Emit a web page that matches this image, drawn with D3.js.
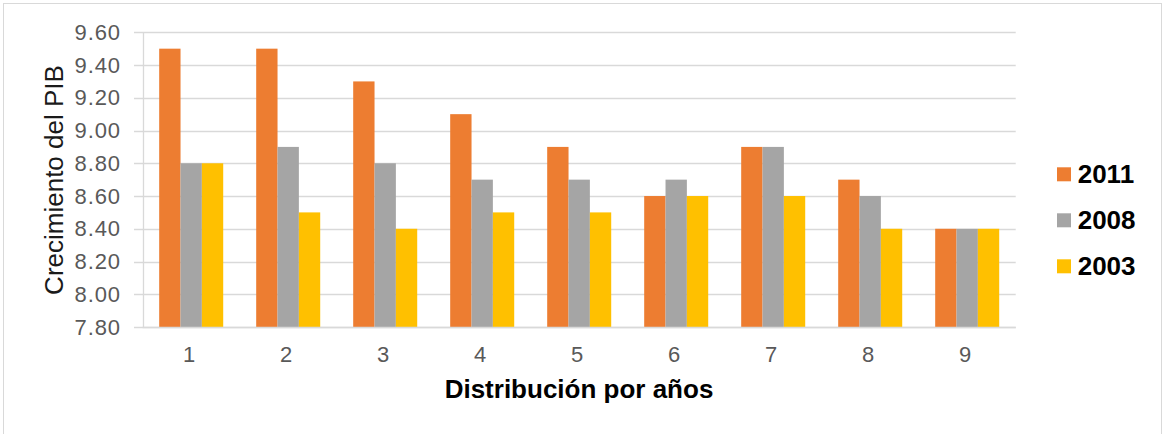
<!DOCTYPE html>
<html>
<head>
<meta charset="utf-8">
<script src="https://cdn.jsdelivr.net/npm/d3@7"></script>
<style>
  html, body { margin: 0; padding: 0; background: #fff; }
  svg { display: block; font-family: "Liberation Sans", Arial, sans-serif; }
</style>
</head>
<body>
<svg id="chart" width="1163" height="434"></svg>
<script>
const categories = ["1", "2", "3", "4", "5", "6", "7", "8", "9"];
const seriesNames = ["2011", "2008", "2003"];
const values2011 = [9.5, 9.5, 9.3, 9.1, 8.9, 8.6, 8.9, 8.7, 8.4];
const values2008 = [8.8, 8.9, 8.8, 8.7, 8.7, 8.7, 8.9, 8.6, 8.4];
const values2003 = [8.8, 8.5, 8.4, 8.5, 8.5, 8.6, 8.6, 8.4, 8.4];
const seriesColors = ["#ED7D31", "#A5A5A5", "#FFC000"];
const yTicks = [7.8, 8.0, 8.2, 8.4, 8.6, 8.8, 9.0, 9.2, 9.4, 9.6];
const yTitle = "Crecimiento del PIB";
const xTitle = "Distribución por años";

const seriesValues = [values2011, values2008, values2003];

const svg = d3.select("#chart");

// chart border
svg.append("rect")
  .attr("x", 3.5).attr("y", 3.5)
  .attr("width", 1158).attr("height", 440)
  .attr("fill", "none").attr("stroke", "#d9d9d9").attr("stroke-width", 1);

const plotLeft = 142.7, plotRight = 1015.7, plotTop = 32.3, plotBottom = 327;

const x = d3.scaleBand().domain(categories).range([plotLeft, plotRight])
  .paddingInner(0.34).paddingOuter(0.17);
const xs = d3.scaleBand().domain(seriesNames).range([0, x.bandwidth()]).padding(0);
const y = d3.scaleLinear().domain([7.8, 9.6]).range([plotBottom, plotTop]);

// gridlines
svg.append("g").selectAll("line").data(yTicks).join("line")
  .attr("x1", 134).attr("x2", plotRight)
  .attr("y1", d => Math.round(y(d)) + 0.5).attr("y2", d => Math.round(y(d)) + 0.5)
  .attr("stroke", "#d9d9d9").attr("stroke-width", 1.3);

// vertical axis line
svg.append("line")
  .attr("x1", Math.round(plotLeft) + 0.5).attr("x2", Math.round(plotLeft) + 0.5)
  .attr("y1", y(9.6)).attr("y2", y(7.8))
  .attr("stroke", "#d9d9d9").attr("stroke-width", 1.3);

// y tick labels
svg.append("g").selectAll("text").data(yTicks).join("text")
  .attr("x", 121).attr("y", d => y(d) + 7.5)
  .attr("text-anchor", "end")
  .attr("font-size", 22).attr("letter-spacing", 0.9)
  .attr("fill", "#595959")
  .text(d => d.toFixed(2));

// bars
const groups = svg.append("g").selectAll("g").data(categories).join("g")
  .attr("transform", c => `translate(${x(c)},0)`);
groups.selectAll("rect")
  .data((c, i) => seriesNames.map((s, j) => ({ s, v: seriesValues[j][i], j })))
  .join("rect")
  .attr("x", d => xs(d.s))
  .attr("width", xs.bandwidth())
  .attr("y", d => y(d.v))
  .attr("height", d => y(7.8) - y(d.v))
  .attr("fill", d => seriesColors[d.j]);

// bottom axis line
svg.append("line")
  .attr("x1", plotLeft).attr("x2", plotRight)
  .attr("y1", Math.round(plotBottom) + 0.5).attr("y2", Math.round(plotBottom) + 0.5)
  .attr("stroke", "#d9d9d9").attr("stroke-width", 1.3);

// x tick labels
svg.append("g").selectAll("text").data(categories).join("text")
  .attr("x", c => x(c) + x.bandwidth() / 2 - 2)
  .attr("y", 362)
  .attr("text-anchor", "middle")
  .attr("font-size", 22)
  .attr("fill", "#595959")
  .text(c => c);

// axis titles
svg.append("text")
  .attr("transform", "translate(62.5,180) rotate(-90)")
  .attr("text-anchor", "middle")
  .attr("font-size", 26)
  .attr("fill", "#1a1a1a")
  .text(yTitle);

svg.append("text")
  .attr("x", 579).attr("y", 398)
  .attr("text-anchor", "middle")
  .attr("font-size", 26).attr("font-weight", "bold")
  .attr("fill", "#000")
  .text(xTitle);

// legend
const legend = svg.append("g").selectAll("g").data(seriesNames).join("g")
  .attr("transform", (d, i) => `translate(1057,${167.3 + i * 46})`);
legend.append("rect")
  .attr("width", 14).attr("height", 14)
  .attr("fill", (d, i) => seriesColors[i]);
legend.append("text")
  .attr("x", 20.7).attr("y", 15.4)
  .attr("font-size", 26).attr("font-weight", "bold")
  .attr("fill", "#000")
  .text(d => d);
</script>
</body>
</html>
